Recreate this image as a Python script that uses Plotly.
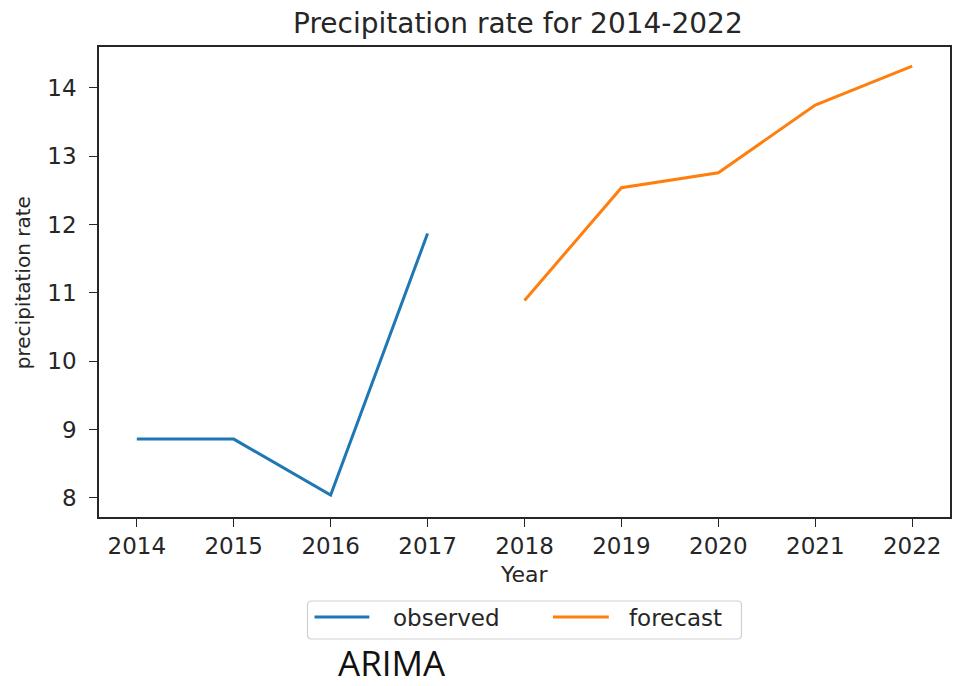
import plotly.graph_objects as go

# Observed and forecast precipitation rates
observed_years = [2014, 2015, 2016, 2017]
observed_rate = [8.86, 8.86, 8.04, 11.87]
forecast_years = [2018, 2019, 2020, 2021, 2022]
forecast_rate = [10.89, 12.54, 12.76, 13.75, 14.32]
year_ticks = [2014, 2015, 2016, 2017, 2018, 2019, 2020, 2021, 2022]
rate_ticks = [8, 9, 10, 11, 12, 13, 14]

W, H = 953, 686
L, R, T, B = 99, 952, 47, 517  # plot-area edges in pixels

BLUE = "#1f77b4"
ORANGE = "#ff7f0e"
INK = "#262626"
FONT = "DejaVu Sans"


def px_x(x):
    return (x - L) / (R - L)


def px_y(y):
    return (B - y) / (B - T)


fig = go.Figure()
fig.add_trace(go.Scatter(x=observed_years, y=observed_rate, mode="lines",
                         name="observed", line=dict(color=BLUE, width=3)))
fig.add_trace(go.Scatter(x=forecast_years, y=forecast_rate, mode="lines",
                         name="forecast", line=dict(color=ORANGE, width=3)))

axis_common = dict(showgrid=False, zeroline=False, showline=True, mirror=True,
                   linecolor=INK, linewidth=1.6, ticks="outside", ticklen=8,
                   tickwidth=1.4, tickcolor=INK,
                   tickfont=dict(family=FONT, size=23, color=INK))
fig.update_xaxes(range=[2013.61, 2022.39], tickvals=year_ticks,
                 ticklabelstandoff=0, **axis_common)
fig.update_yaxes(range=[7.72, 14.60], tickvals=rate_ticks,
                 ticklabelstandoff=8, **axis_common)

annotations = [
    dict(text="Precipitation rate for 2014-2022", x=px_x(519), y=px_y(24),
         font=dict(family=FONT, size=28, color=INK)),
    dict(text="Year", x=px_x(526), y=px_y(574),
         font=dict(family=FONT, size=22, color=INK)),
    dict(text="precipitation rate", x=px_x(23), y=px_y(283), textangle=-90,
         font=dict(family=FONT, size=20, color=INK)),
    dict(text="observed", x=px_x(392), y=px_y(618), xanchor="left",
         font=dict(family=FONT, size=23, color=INK)),
    dict(text="forecast", x=px_x(628), y=px_y(618), xanchor="left",
         font=dict(family=FONT, size=23, color=INK)),
    dict(text="ARIMA", x=px_x(393), y=px_y(662),
         font=dict(family="Open Sans", size=35, color="#111111")),
]
for a in annotations:
    a.setdefault("xanchor", "center")
    a.update(xref="paper", yref="paper", yanchor="middle", showarrow=False)

# Legend frame and line samples
x0, x1, y0, y1, r = 308, 743, 601, 639, 4
frame = (f"M{px_x(x0 + r)},{px_y(y0)} L{px_x(x1 - r)},{px_y(y0)} "
         f"Q{px_x(x1)},{px_y(y0)} {px_x(x1)},{px_y(y0 + r)} "
         f"L{px_x(x1)},{px_y(y1 - r)} Q{px_x(x1)},{px_y(y1)} {px_x(x1 - r)},{px_y(y1)} "
         f"L{px_x(x0 + r)},{px_y(y1)} Q{px_x(x0)},{px_y(y1)} {px_x(x0)},{px_y(y1 - r)} "
         f"L{px_x(x0)},{px_y(y0 + r)} Q{px_x(x0)},{px_y(y0)} {px_x(x0 + r)},{px_y(y0)} Z")
shapes = [
    dict(type="path", path=frame, xref="paper", yref="paper",
         line=dict(color="#d0d0d0", width=1.2), fillcolor="white"),
    dict(type="line", xref="paper", yref="paper", x0=px_x(315), x1=px_x(370),
         y0=px_y(617), y1=px_y(617), line=dict(color=BLUE, width=3)),
    dict(type="line", xref="paper", yref="paper", x0=px_x(554), x1=px_x(610),
         y0=px_y(617), y1=px_y(617), line=dict(color=ORANGE, width=3)),
]

fig.update_layout(
    width=W, height=H,
    margin=dict(l=L, r=W - R, t=T, b=H - B),
    paper_bgcolor="white", plot_bgcolor="white",
    showlegend=False,
    annotations=annotations,
    shapes=shapes,
)

fig.write_html("out.html")
